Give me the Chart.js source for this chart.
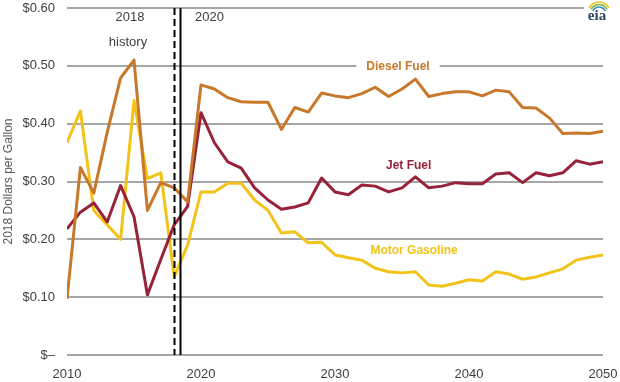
<!DOCTYPE html>
<html>
<head>
<meta charset="utf-8">
<script src="https://cdn.jsdelivr.net/npm/chart.js@4"></script>
<style>
  html, body { margin: 0; padding: 0; background: #fff; }
  #wrap { width: 620px; height: 382px; }
</style>
</head>
<body>
<div id="wrap"><canvas id="priceChart" width="620" height="382"></canvas></div>
<script>
// years 2010-2050
const years = [];
for (let y = 2010; y <= 2050; y++) years.push(y);

const diesel = [0.097, 0.324, 0.280, 0.385, 0.479, 0.510, 0.250, 0.298, 0.289, 0.265,
  0.467, 0.460, 0.445, 0.438, 0.437, 0.437, 0.390, 0.428, 0.420, 0.453,
  0.448, 0.445, 0.452, 0.463, 0.447, 0.460, 0.477, 0.447, 0.452, 0.455,
  0.455, 0.448, 0.458, 0.455, 0.428, 0.427, 0.410, 0.383, 0.384, 0.383, 0.387];

const jetFuel = [0.218, 0.247, 0.263, 0.230, 0.293, 0.239, 0.104, 0.165, 0.225, 0.257,
  0.419, 0.367, 0.334, 0.323, 0.289, 0.268, 0.252, 0.256, 0.263, 0.306,
  0.282, 0.277, 0.294, 0.292, 0.282, 0.289, 0.308, 0.289, 0.292, 0.298,
  0.296, 0.296, 0.313, 0.315, 0.298, 0.315, 0.310, 0.315, 0.336, 0.330, 0.334];

const gasoline = [0.367, 0.422, 0.250, 0.225, 0.200, 0.440, 0.305, 0.315, 0.135, 0.190,
  0.282, 0.282, 0.297, 0.297, 0.268, 0.250, 0.211, 0.213, 0.194, 0.195,
  0.173, 0.168, 0.164, 0.150, 0.144, 0.142, 0.144, 0.121, 0.119, 0.124,
  0.130, 0.128, 0.144, 0.140, 0.131, 0.135, 0.142, 0.149, 0.164, 0.169, 0.173];

const xTicks = [2010, 2020, 2030, 2040, 2050];
const yTicks = [0, 0.1, 0.2, 0.3, 0.4, 0.5, 0.6];

// inline series labels: [text, x year, y value, colour, white box]
const seriesLabels = [
  ['Diesel Fuel', 2034.7, 0.50, '#C8782A', true],
  ['Jet Fuel', 2035.5, 0.329, '#96233A', false],
  ['Motor Gasoline', 2035.9, 0.182, '#F2C318', false]
];

const FONT = "'Liberation Sans', Arial, sans-serif";

function pts(arr) {
  return arr.map((v, i) => ({ x: years[i], y: v }));
}

const overlay = {
  id: 'overlay',
  afterDatasetsDraw(chart) {
    const ctx = chart.ctx;
    const xs = chart.scales.x, ys = chart.scales.y;
    const top = chart.chartArea.top, bottom = chart.chartArea.bottom;

    // history / projection dividers
    ctx.save();
    ctx.strokeStyle = '#000';
    ctx.lineWidth = 2;
    ctx.setLineDash([7, 4]);
    let xd = Math.round(xs.getPixelForValue(2018)) + 0.5;
    ctx.beginPath(); ctx.moveTo(xd, top); ctx.lineTo(xd, bottom); ctx.stroke();
    ctx.setLineDash([]);
    let xs2 = Math.round(xs.getPixelForValue(2018.47)) + 0.5;
    ctx.beginPath(); ctx.moveTo(xs2, top); ctx.lineTo(xs2, bottom); ctx.stroke();

    ctx.font = '13px ' + FONT;
    ctx.fillStyle = '#404040';
    ctx.textBaseline = 'middle';
    ctx.textAlign = 'center';
    ctx.fillText('2018', 130, 17);
    ctx.fillText('history', 128, 42);
    ctx.textAlign = 'left';
    ctx.fillText('2020', 195, 17);

    // series labels
    ctx.font = 'bold 12px ' + FONT;
    ctx.textAlign = 'center';
    seriesLabels.forEach(l => {
      const px = xs.getPixelForValue(l[1]);
      const py = ys.getPixelForValue(l[2]);
      if (l[4]) {
        const w = ctx.measureText(l[0]).width;
        ctx.fillStyle = '#fff';
        ctx.fillRect(px - w / 2 - 10, py - 6, w + 20, 12);
      }
      ctx.fillStyle = l[3];
      ctx.fillText(l[0], px, py + 1);
    });

    // eia logo
    ctx.fillStyle = '#fff';
    ctx.fillRect(584, 3, 36, 10);
    ctx.lineWidth = 1.6;
    [['#F2C318', 9], ['#7DB442', 7], ['#3C8DC5', 5]].forEach((a, i) => {
      ctx.strokeStyle = a[0];
      ctx.beginPath();
      ctx.arc(599, 13 + i * 0.5, a[1] + 2, Math.PI * 1.15, Math.PI * 1.85);
      ctx.stroke();
    });
    ctx.fillStyle = '#2E4A62';
    ctx.font = 'bold 15px "Liberation Serif", serif';
    ctx.textAlign = 'center';
    ctx.fillText('eia', 597, 16);
    ctx.restore();
  }
};

new Chart(document.getElementById('priceChart'), {
  type: 'line',
  data: {
    datasets: [
      { label: 'Diesel Fuel', data: pts(diesel), borderColor: '#C8782A' },
      { label: 'Jet Fuel', data: pts(jetFuel), borderColor: '#96233A' },
      { label: 'Motor Gasoline', data: pts(gasoline), borderColor: '#F2C318' }
    ]
  },
  options: {
    responsive: false,
    animation: false,
    layout: { padding: { top: 8, right: 17, left: 0, bottom: 0 } },
    elements: {
      line: { borderWidth: 3, tension: 0, borderJoinStyle: 'round' },
      point: { radius: 0 }
    },
    plugins: { legend: { display: false }, tooltip: { enabled: false } },
    scales: {
      x: {
        type: 'linear',
        min: 2010, max: 2050,
        afterBuildTicks: s => { s.ticks = xTicks.map(v => ({ value: v })); },
        afterFit: s => { s.height = 27; },
        grid: { display: false, drawTicks: true, tickLength: 12, tickColor: 'transparent' },
        border: { display: false },
        ticks: {
          padding: 0,
          maxRotation: 0,
          color: '#404040',
          font: { family: FONT, size: 13 },
          callback: v => String(v)
        }
      },
      y: {
        min: 0, max: 0.6,
        afterBuildTicks: s => { s.ticks = yTicks.map(v => ({ value: v })); },
        afterFit: s => { s.width = 67; },
        grid: { color: '#A6A6A6', lineWidth: 2, drawTicks: true, tickLength: 12, tickColor: 'transparent' },
        border: { display: false },
        title: {
          display: true,
          text: '2018 Dollars per Gallon',
          color: '#595959',
          padding: { top: 1, bottom: 0 },
          font: { family: FONT, size: 12 }
        },
        ticks: {
          padding: 0,
          color: '#404040',
          font: { family: FONT, size: 13 },
          callback: v => v === 0 ? '$–' : '$' + v.toFixed(2)
        }
      }
    }
  },
  plugins: [overlay]
});
</script>
</body>
</html>
